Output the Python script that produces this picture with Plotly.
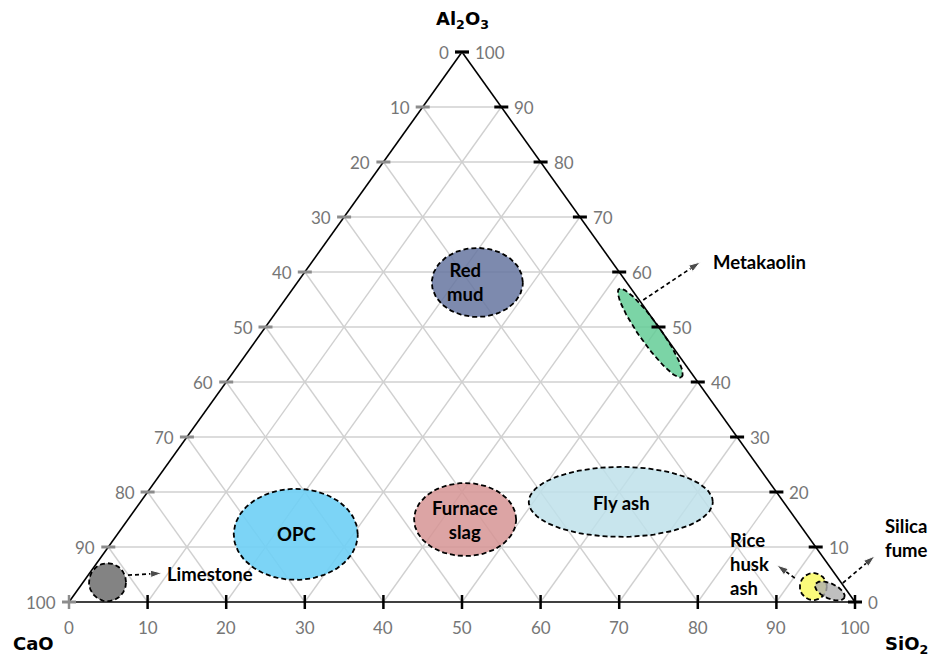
import numpy as np
import plotly.graph_objects as go

# ---------------- data ----------------
TICKS = list(range(0, 101, 10))
GRID_LEVELS = list(range(10, 100, 10))

materials = ["Limestone", "OPC", "Furnace slag", "Fly ash", "Red mud",
             "Metakaolin", "Rice husk ash", "Silica fume"]
cao = [93.3, 65.0, 42.1, 20.7, 19.0, 1.6, 3.9, 2.2]
sio2 = [3.1, 22.7, 42.9, 61.1, 22.9, 49.5, 93.3, 95.8]
al2o3 = [3.6, 12.3, 15.0, 18.2, 58.1, 48.9, 2.8, 2.0]

label_text = ["Limestone", "OPC", "Furnace<br>slag", "Fly ash", "Red<br>mud",
              "Metakaolin", "Rice<br>husk<br>ash", "Silica<br>fume"]

# ---------------- styles ----------------
PAGE_OFF = 8                       # browser body margin
W, H = 938 - PAGE_OFF, 656 - PAGE_OFF
X0PX, X100PX, YBOT, YTOP = 69 - PAGE_OFF, 855 - PAGE_OFF, 602 - PAGE_OFF, 52 - PAGE_OFF
SX = (X100PX - X0PX) / 100.0
SY = (YBOT - YTOP) / 100.0

fills = ["rgba(118,118,118,0.9)", "rgba(110,207,245,0.9)", "rgba(214,148,148,0.85)",
         "rgba(190,224,234,0.85)", "rgba(102,117,160,0.85)", "rgba(100,205,150,0.85)",
         "rgba(250,250,100,0.85)", "rgba(175,175,175,0.8)"]
# semi-axes (px), rotation (deg, counter-clockwise on screen)
radii = [(18.5, 19, 0), (62, 45.5, 0), (51, 36.5, 0), (92, 35, 0), (45.5, 34.5, 0),
         (54, 10.5, -54.6), (13.5, 13.5, 0), (16, 7.5, -25)]
# label placement: (dx px, dy px up, anchor)
label_pos = [(57.5, 8, "left"), (1, 0, "center"), (0, 0, "center"), (1, -1, "center"),
             (-12, 0, "center"), (61, 71, "left"), (-85.5, 22.5, "left"), (53, 53.5, "left")]
# arrows: (start dx, start dy, end dx, end dy) in px relative to centre, or None
arrows = [(20.5, 7, 54.5, 9), None, None, None, None, (-7, 33, 50, 71),
          (-18.5, 8.5, -36.5, 21.5), (13, 8, 45, 35)]

GRID_COLOR = "#d0d0d0"
TICK_GRAY = "#8c8c8c"
LABEL_GRAY = "#767676"
TICK_FONT = dict(family="Lato, Noto Sans, sans-serif", size=17, color=LABEL_GRAY)
LBL_FONT = dict(family="Lato, Noto Sans, sans-serif", size=18.5, color="black")
TITLE_FONT = dict(family="DejaVu Sans, sans-serif", size=18, color="black")


def tern(ca, si, al):
    """ternary composition -> cartesian data coords"""
    ca, si, al = np.asarray(ca, float), np.asarray(si, float), np.asarray(al, float)
    tot = ca + si + al
    si, al = si / tot * 100, al / tot * 100
    return si + al / 2.0, al


def seg_trace(pairs, color, width):
    xs, ys = [], []
    for (p, q) in pairs:
        x1, y1 = tern(*p)
        x2, y2 = tern(*q)
        xs += [float(x1), float(x2), None]
        ys += [float(y1), float(y2), None]
    return go.Scatter(x=xs, y=ys, mode="lines", line=dict(color=color, width=width),
                      hoverinfo="skip", showlegend=False)


fig = go.Figure()

# grid lines (three families)
grid_pairs = []
for k in GRID_LEVELS:
    grid_pairs.append(((100 - k, 0, k), (0, 100 - k, k)))      # constant Al2O3
    grid_pairs.append(((100 - k, k, 0), (0, k, 100 - k)))      # constant SiO2
    grid_pairs.append(((k, 100 - k, 0), (k, 0, 100 - k)))      # constant CaO
fig.add_trace(seg_trace(grid_pairs, GRID_COLOR, 1.4))

# ellipses
t = np.linspace(0, 2 * np.pi, 121)
for i, m in enumerate(materials):
    cx, cy = tern(cao[i], sio2[i], al2o3[i])
    a, b, ang = radii[i]
    th = np.deg2rad(ang)
    dx = a * np.cos(t) * np.cos(th) - b * np.sin(t) * np.sin(th)
    dy = a * np.cos(t) * np.sin(th) + b * np.sin(t) * np.cos(th)
    fig.add_trace(go.Scatter(x=cx + dx / SX, y=cy + dy / SY, mode="lines", fill="toself",
                             fillcolor=fills[i],
                             line=dict(color="black", width=1.8, dash="5px,3px"),
                             name=m, hoverinfo="name", showlegend=False))

# triangle edges
edges = [((100, 0, 0), (0, 100, 0)), ((100, 0, 0), (0, 0, 100)), ((0, 100, 0), (0, 0, 100))]
fig.add_trace(seg_trace(edges, "black", 1.6))

# tick marks
lx, ly = tern([100 - v for v in TICKS], [0] * 11, TICKS)   # left edge
rx, ry = tern([0] * 11, [100 - v for v in TICKS], TICKS)   # right edge
bx, by = tern([100 - v for v in TICKS], TICKS, [0] * 11)   # bottom edge
fig.add_trace(go.Scatter(x=lx, y=ly, mode="markers", hoverinfo="skip",
                         marker=dict(symbol="line-ew", size=10, line=dict(color=TICK_GRAY, width=3))))
fig.add_trace(go.Scatter(x=bx, y=by, mode="markers", hoverinfo="skip",
                         marker=dict(symbol="line-ns", size=10,
                                     line=dict(color=[TICK_GRAY] + ["black"] * 10, width=2.5))))
fig.add_trace(go.Scatter(x=rx, y=ry, mode="markers", hoverinfo="skip",
                         marker=dict(symbol="line-ew", size=10, line=dict(color="black", width=3))))

# arrows
for i, arr in enumerate(arrows):
    if arr is None:
        continue
    cx, cy = tern(cao[i], sio2[i], al2o3[i])
    x1, y1, x2, y2 = arr
    fig.add_trace(go.Scatter(x=[cx + x1 / SX, cx + x2 / SX], y=[cy + y1 / SY, cy + y2 / SY],
                             mode="lines+markers", hoverinfo="skip",
                             line=dict(color="black", width=1.7, dash="4px,3px"),
                             marker=dict(symbol=["circle", "arrow"], size=[1, 12],
                                         angleref="previous", color="black")))

annotations = []
# tick labels
for v, x, y in zip(TICKS, lx, ly):
    annotations.append(dict(x=x, y=y, text=str(100 - v), showarrow=False, xanchor="right",
                            yanchor="middle", xshift=-11, font=TICK_FONT))
for v, x, y in zip(TICKS, rx, ry):
    annotations.append(dict(x=x, y=y, text=str(v), showarrow=False, xanchor="left",
                            yanchor="middle", xshift=11, font=TICK_FONT))
for v, x, y in zip(TICKS, bx, by):
    annotations.append(dict(x=x, y=y, text=str(v), showarrow=False, xanchor="center",
                            yanchor="middle", yshift=-25, font=TICK_FONT))

# axis titles
tx, ty = tern(0, 0, 100)
annotations.append(dict(x=tx, y=ty, text="<b>Al<sub>2</sub>O<sub>3</sub></b>", showarrow=False,
                        yshift=32, font=TITLE_FONT))
tx, ty = tern(100, 0, 0)
annotations.append(dict(x=tx, y=ty, text="<b>CaO</b>", showarrow=False,
                        xshift=-36, yshift=-41, font=TITLE_FONT))
tx, ty = tern(0, 100, 0)
annotations.append(dict(x=tx, y=ty, text="<b>SiO<sub>2</sub></b>", showarrow=False,
                        xshift=51, yshift=-43, font=TITLE_FONT))

# material labels
for i, m in enumerate(materials):
    cx, cy = tern(cao[i], sio2[i], al2o3[i])
    dx, dy, anc = label_pos[i]
    annotations.append(dict(x=cx, y=cy, text="<b>" + label_text[i] + "</b>", showarrow=False,
                            xanchor=anc, align=anc,
                            xshift=dx, yshift=dy, font=LBL_FONT))

fig.update_layout(
    width=W, height=H, margin=dict(l=0, r=0, t=0, b=0),
    paper_bgcolor="white", plot_bgcolor="white", showlegend=False,
    xaxis=dict(range=[-X0PX / SX, (W - X0PX) / SX], visible=False, fixedrange=True),
    yaxis=dict(range=[-(H - YBOT) / SY, YBOT / SY], visible=False, fixedrange=True),
    annotations=annotations,
)

fig.write_html("out.html")
